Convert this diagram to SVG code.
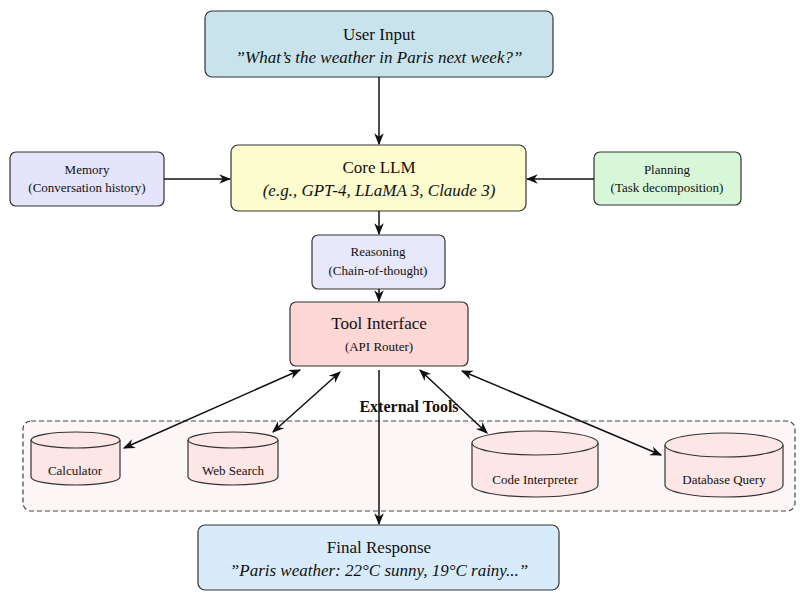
<svg xmlns="http://www.w3.org/2000/svg" width="804" height="602" viewBox="0 0 804 602">
<defs>
<marker id="ah" viewBox="0 0 10 10" refX="9" refY="5" markerWidth="8" markerHeight="8" orient="auto-start-reverse"><path d="M0,1 L10,5 L0,9 L3,5 Z" fill="#111"/></marker>
<style>
text{font-family:"Liberation Serif",serif;fill:#111;text-anchor:middle}
.box{stroke:#333;stroke-width:1.2}
.it{font-style:italic}
.ln{stroke:#111;stroke-width:1.5;fill:none;marker-end:url(#ah)}
.bi{marker-start:url(#ah)}
.cyl{fill:#fde6e6;stroke:#333;stroke-width:1.2}
</style>
</defs>
<rect width="804" height="602" fill="#fff"/>
<g id="tools-region">
<rect x="23" y="421" width="772" height="90" rx="8" fill="#fdf6f6" stroke="#444" stroke-width="1.2" stroke-dasharray="5,3"/>
<text x="409" y="412" font-size="16" font-weight="bold">External Tools</text>
</g>
<g id="user-input"><rect class="box" x="205" y="11" width="348" height="66" rx="7" fill="#c8e3ec"/>
<text x="379" y="40" font-size="17">User Input</text><text class="it" x="379" y="63" font-size="17">”What’s the weather in Paris next week?”</text></g>
<g id="core-llm"><rect class="box" x="231" y="145" width="295" height="66" rx="7" fill="#fdfccf"/>
<text x="379" y="173" font-size="17">Core LLM</text><text class="it" x="379" y="196" font-size="17">(e.g., GPT-4, LLaMA 3, Claude 3)</text></g>
<g id="memory"><rect class="box" x="10" y="152" width="154" height="54" rx="6" fill="#e4e4fb"/>
<text x="87" y="174" font-size="13">Memory</text><text x="87" y="192" font-size="13">(Conversation history)</text></g>
<g id="planning"><rect class="box" x="594" y="152" width="147" height="53" rx="6" fill="#d8f7d8"/>
<text x="667" y="174" font-size="13">Planning</text><text x="667" y="192" font-size="13">(Task decomposition)</text></g>
<g id="reasoning"><rect class="box" x="312" y="235" width="133" height="54" rx="6" fill="#e8e8fb"/>
<text x="378" y="256" font-size="13">Reasoning</text><text x="378" y="275" font-size="13">(Chain-of-thought)</text></g>
<g id="tool-interface"><rect class="box" x="290" y="302" width="178" height="64" rx="6" fill="#fdd6d6"/>
<text x="379" y="329" font-size="17">Tool Interface</text><text x="379" y="351" font-size="13">(API Router)</text></g>
<g id="calculator"><path class="cyl" d="M31,440 V477 A44.5,8 0 0 0 120,477 V440"/><ellipse class="cyl" cx="75.5" cy="440" rx="44.5" ry="8"/><text x="75" y="475" font-size="13">Calculator</text></g>
<g id="web-search"><path class="cyl" d="M188,440 V477 A45,8 0 0 0 278,477 V440"/><ellipse class="cyl" cx="233" cy="440" rx="45" ry="8"/><text x="233" y="475" font-size="13">Web Search</text></g>
<g id="code-interpreter"><path class="cyl" d="M472,443 V485 A63,12 0 0 0 598,485 V443"/><ellipse class="cyl" cx="535" cy="443" rx="63" ry="12"/><text x="535" y="484" font-size="13">Code Interpreter</text></g>
<g id="database-query"><path class="cyl" d="M665,445 V485 A59,12 0 0 0 783,485 V445"/><ellipse class="cyl" cx="724" cy="445" rx="59" ry="12"/><text x="724" y="484" font-size="13">Database Query</text></g>
<g id="final-response"><rect class="box" x="198" y="525" width="361" height="65" rx="7" fill="#d7ebfa"/>
<text x="379" y="553" font-size="17">Final Response</text><text class="it" x="379" y="576" font-size="17">”Paris weather: 22°C sunny, 19°C rainy...”</text></g>
<g id="connectors">
<line class="ln" x1="379" y1="77" x2="379" y2="144"/>
<line class="ln" x1="164" y1="179" x2="230" y2="179"/>
<line class="ln" x1="594" y1="179" x2="527" y2="179"/>
<line class="ln" x1="379" y1="211" x2="379" y2="234"/>
<line class="ln" x1="379" y1="289" x2="379" y2="301"/>
<line class="ln" x1="379" y1="370" x2="379" y2="524"/>
<line class="ln bi" x1="300" y1="370" x2="124" y2="448"/>
<line class="ln bi" x1="340" y1="372" x2="273" y2="432"/>
<line class="ln bi" x1="420" y1="370" x2="487" y2="433"/>
<line class="ln bi" x1="462" y1="371" x2="661" y2="455"/>
</g>
</svg>
